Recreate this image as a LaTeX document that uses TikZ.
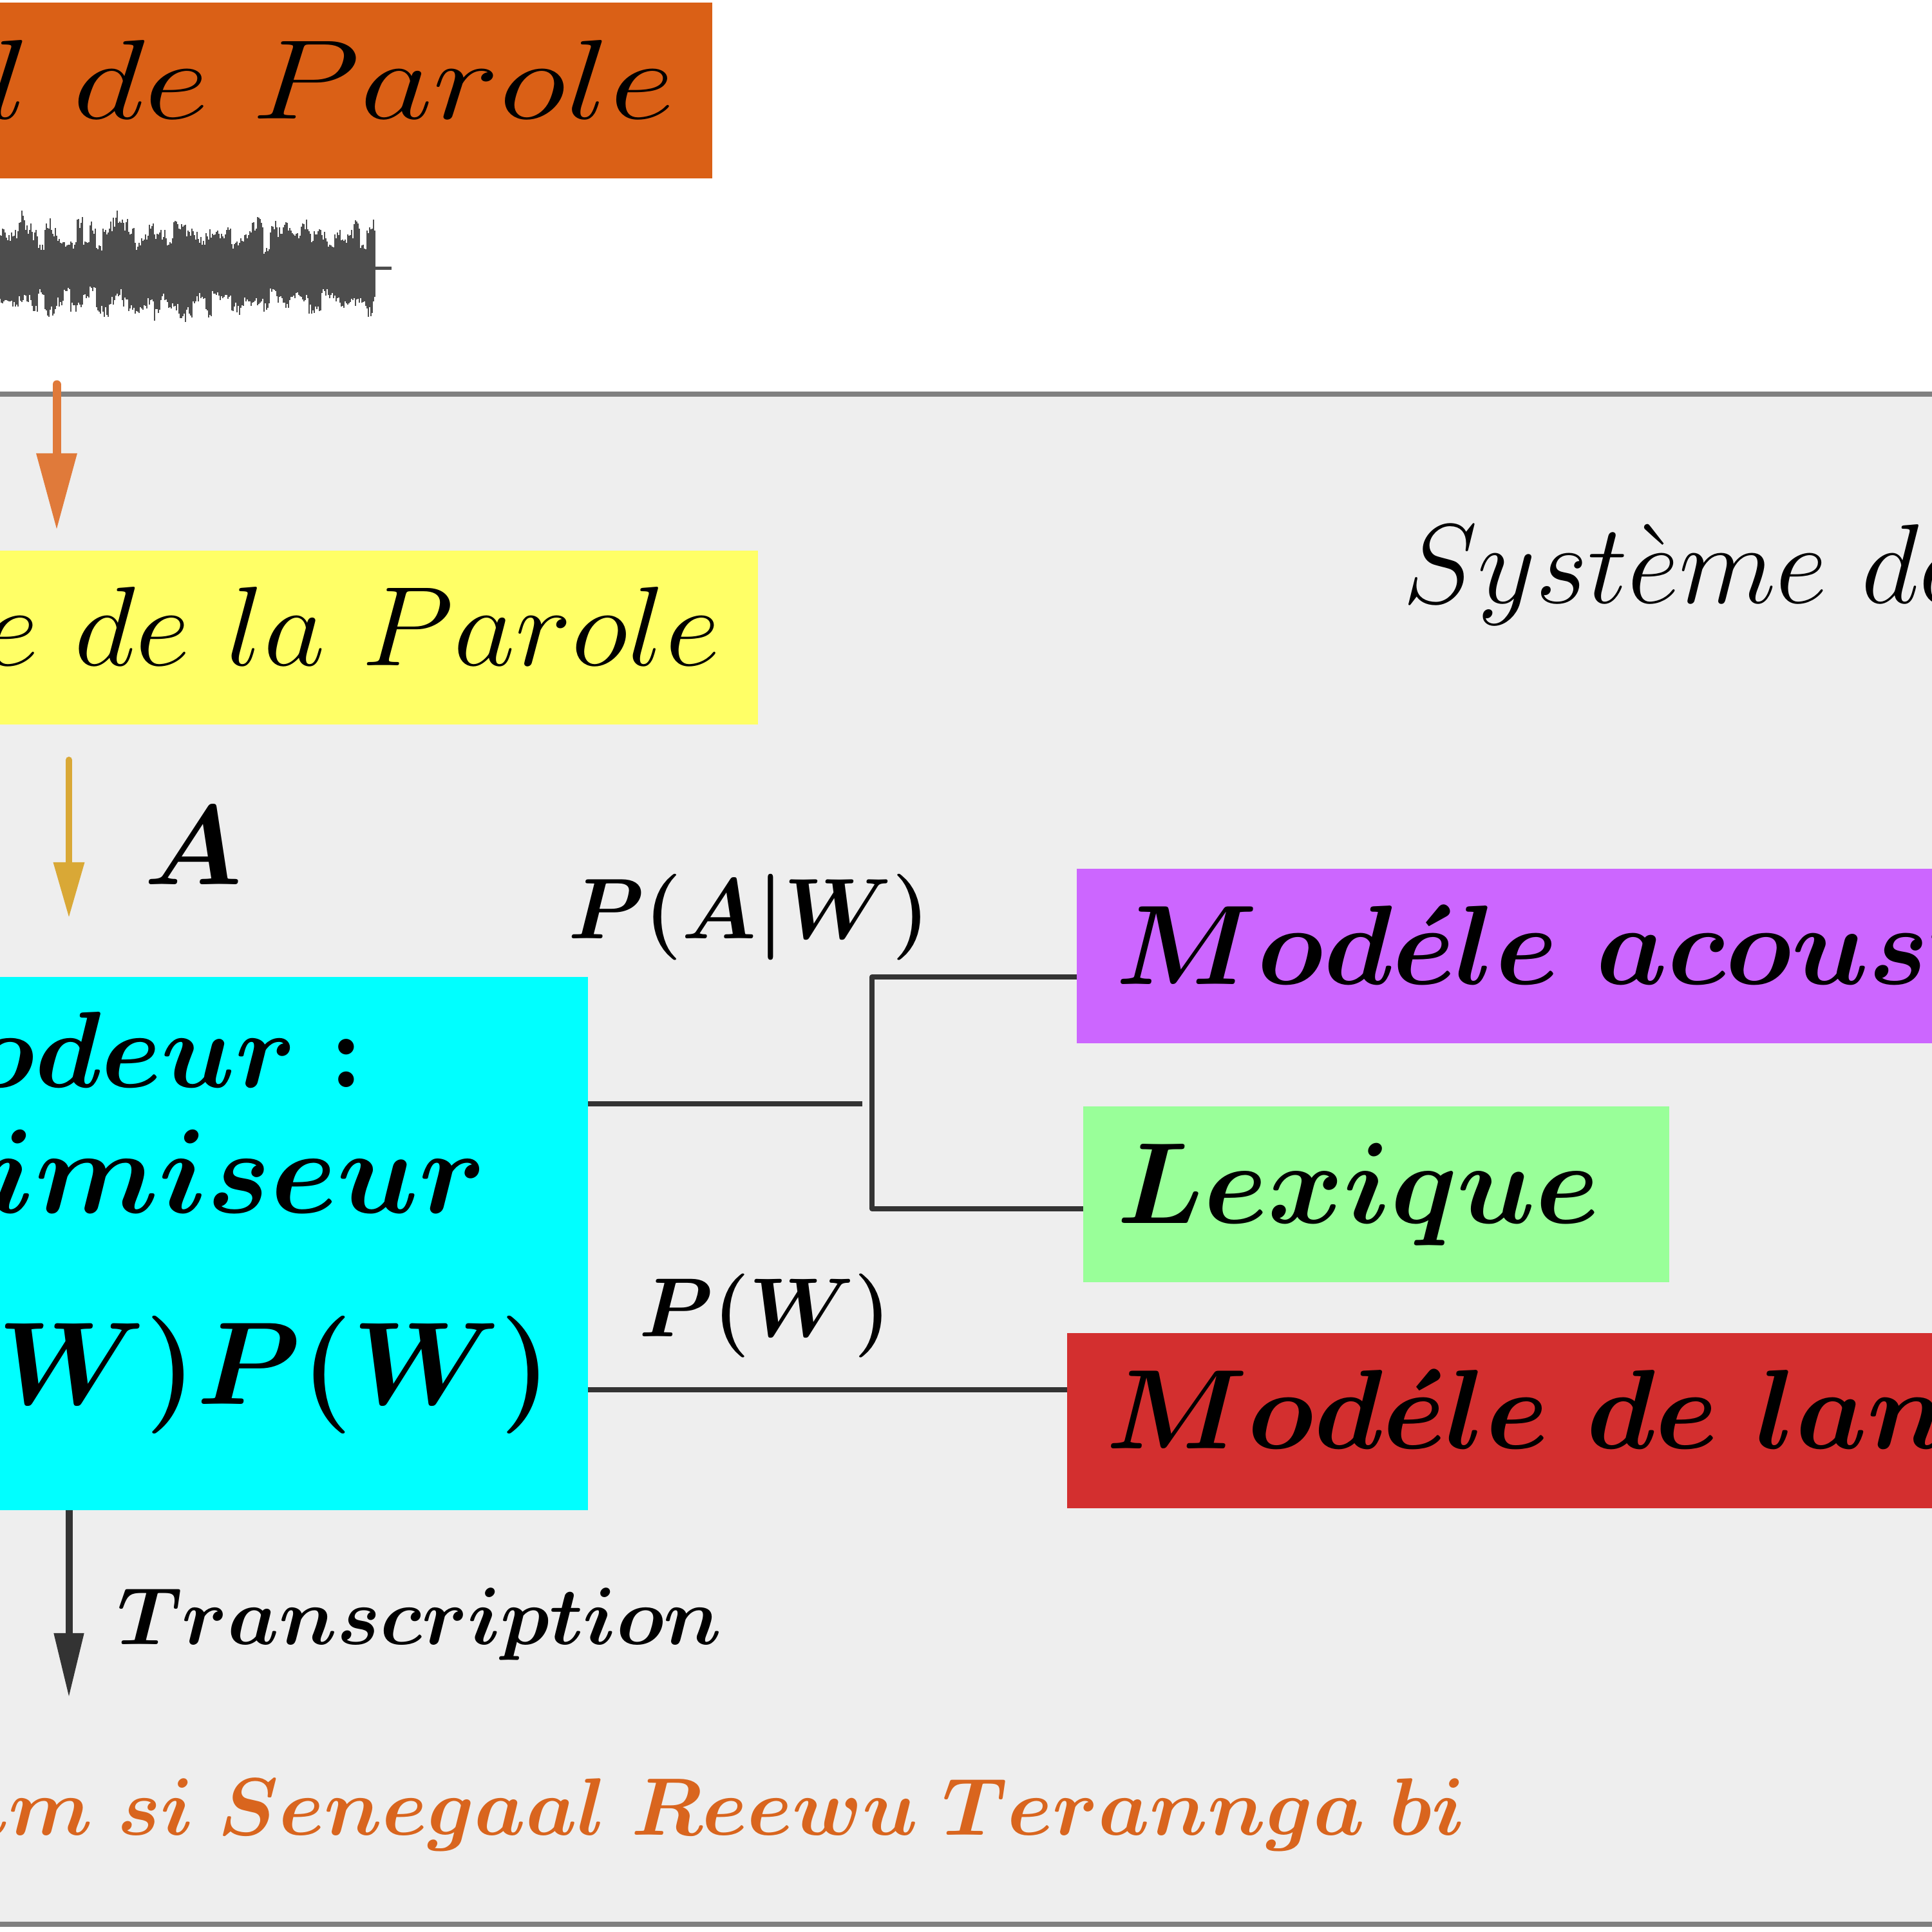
\RequirePackage{fix-cm}
\documentclass[tikz,border=0pt]{standalone}
\usepackage{amsmath}
\usepackage{bm}
\usetikzlibrary{arrows.meta}

\definecolor{sigorange}{RGB}{218,96,22}
\definecolor{anayellow}{RGB}{255,255,102}
\definecolor{deccyan}{RGB}{0,255,255}
\definecolor{acpurple}{RGB}{204,102,255}
\definecolor{lexgreen}{RGB}{153,255,153}
\definecolor{lmred}{RGB}{211,47,47}
\definecolor{sysbg}{RGB}{238,238,238}
\definecolor{framegray}{RGB}{128,128,128}
\definecolor{linkgray}{RGB}{51,51,51}
\definecolor{waveg}{RGB}{77,77,77}
\definecolor{arrorange}{RGB}{224,122,58}
\definecolor{arrgold}{RGB}{217,168,54}
\definecolor{outorange}{RGB}{217,101,30}

\begin{document}
\begin{tikzpicture}
\tikzstyle{box} = [outer sep=0, inner ysep=0, minimum height=2.72cm, font=\fontsize{50}{60}\selectfont]
\tikzstyle{lbl} = [outer sep=0, inner sep=0, font=\fontsize{38}{46}\selectfont]
\tikzstyle{link} = [draw=linkgray, line width=0.08cm]
\tikzstyle{wave} = [draw=waveg, line width=0.026cm]

\useasboundingbox (0,0) rectangle (30,30);
\clip (0,0) rectangle (30,30);

% system frame
\node [draw=framegray, line width=0.08cm, fill=sysbg, outer sep=0, minimum width=34cm, minimum height=23.76cm, anchor=north] (sys) at (15,23.88) {};
\node [lbl, font=\fontsize{50}{60}\selectfont, anchor=base west] (systxt) at (21.78,20.63) {$Syst\grave{e}me\ de\ Reconnaissance$};

% speech input
\node [box, fill=sigorange, anchor=east, inner xsep=0.58cm, minimum height=2.73cm] (sig) at (11.06,28.595) {\scalebox{1.25}[1]{$Signal\ de\ Parole$}};
\pgfmathsetseed{7}
\xdef\bup{0.5}\xdef\blo{0.5}
\foreach \i in {0,...,291}
{
	\pgfmathparse{mod(\i,5)}
	\ifdim\pgfmathresult pt=0pt
		\pgfmathsetmacro{\nu}{0.3+0.45*rnd+0.2*abs(sin(\i*7))}
		\pgfmathsetmacro{\nl}{0.35+0.35*rnd+0.15*abs(cos(\i*9))}
		\xdef\bup{\nu}\xdef\blo{\nl}
	\fi
	\pgfmathsetmacro{\up}{\bup*(0.7+0.3*rnd)}
	\pgfmathsetmacro{\lo}{\blo*(0.75+0.25*rnd)}
	\draw [wave] (\i*0.02,25.83-\lo) -- (\i*0.02,25.83+\up);
}
\draw [draw=waveg, line width=0.05cm] (5.8,25.83) -- (6.08,25.83);
\coordinate (sigout) at (0.88,24.03);

% blocks
\node [box, fill=anayellow, anchor=east, inner xsep=0.58cm, minimum height=2.7cm] (ana) at (11.77,20.1) {\scalebox{1.06}[1]{$Analyse\ de\ la\ Parole$}};
\node [box, fill=deccyan, anchor=north east, minimum width=14cm, minimum height=8.28cm] (dec) at (9.13,14.83) {};
\node [lbl, font=\fontsize{48}{56}\selectfont, anchor=base east] (dec1) at (5.64,13.11) {$\bm{D\acute{e}codeur\ {:}}$};
\node [lbl, font=\fontsize{53}{62}\selectfont, anchor=base east] (dec2) at (7.56,11.16) {$\bm{Optimiseur}$};
\node [lbl, font=\fontsize{52}{62}\selectfont, anchor=base east] (dec3) at (8.56,8.19) {$\bm{P(A|W)P(W)}$};

\node [box, fill=acpurple, anchor=north west, inner xsep=0.55cm, minimum height=2.71cm, minimum width=16cm, align=left, text width=14.8cm] (ac) at (16.72,16.51) {$\bm{Mod\acute{e}le\ acoustique}$};
\node [box, fill=lexgreen, anchor=north west, inner xsep=0.52cm, minimum height=2.73cm, align=left, text width=8.06cm, font=\fontsize{51}{60}\selectfont] (lex) at (16.82,12.82) {$\bm{Lexique}$};
\node [box, fill=lmred, anchor=north west, inner xsep=0.57cm, minimum height=2.72cm, minimum width=16cm, align=left, text width=14.8cm] (lm) at (16.57,9.30) {$\bm{Mod\acute{e}le\ de\ langage}$};

% connections
\coordinate (split) at (13.39,12.86);
\coordinate (jac) at (13.54,14.83);
\coordinate (jlex) at (13.54,11.23);
\coordinate (jlm) at (13.0,8.42);
\draw [link] (dec.east |- split) -- (split);
\draw [link, line join=round] (ac.west |- jac) -- (jac) -- (jlex) -- (lex.west |- jlex);
\draw [link] (dec.east |- jlm) -- (lm.west |- jlm);
\node [lbl, anchor=base] (pac) at (11.63,15.42) {$\bm{P(A|W)}$};
\node [lbl, font=\fontsize{37}{44}\selectfont, anchor=base] (pw) at (11.88,9.24) {$\bm{P(W)}$};

% flow arrows
\draw [draw=arrorange, line width=0.13cm, line cap=round, -{Triangle[length=1.19cm,width=0.6cm]}, shorten >=0.32cm] (sigout) -- (ana.north -| sigout);
\coordinate (anaout) at (1.07,18.20);
\draw [draw=arrgold, line width=0.1cm, line cap=round, -{Triangle[length=0.86cm,width=0.46cm]}, shorten >=0.92cm] (anaout) -- (dec.north -| anaout);
\node [lbl, font=\fontsize{50}{60}\selectfont, anchor=base] (feat) at (3.0,16.26) {$\bm{A}$};
\coordinate (out) at (1.07,3.64);
\draw [draw=linkgray, line width=0.11cm, -{Triangle[length=1.0cm,width=0.44cm]}] (dec.south -| out) -- (out);
\node [lbl, font=\fontsize{36}{44}\selectfont, anchor=base west] (trans) at (1.82,4.46) {$\bm{Transcription}$};
\node [lbl, font=\fontsize{36}{44}\selectfont, text=outorange, anchor=base east] (result) at (22.77,1.50) {$\bm{Dalal\ jamm\ si\ Senegaal\ Reewu\ Terannga\ bi}$};
\end{tikzpicture}
\end{document}
